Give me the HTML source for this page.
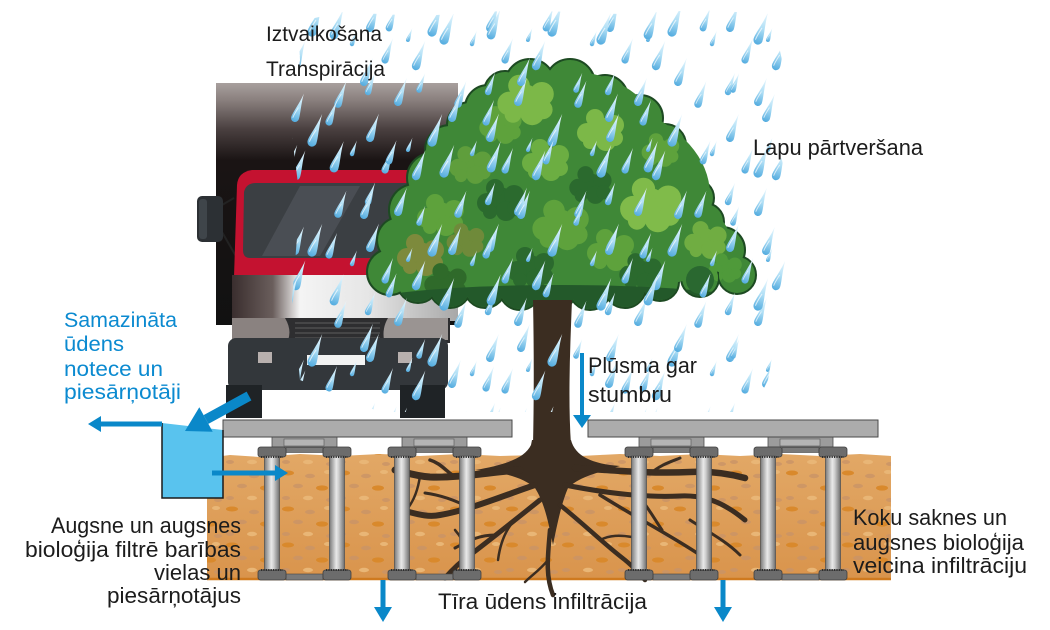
<!DOCTYPE html>
<html><head><meta charset="utf-8">
<style>
html,body{margin:0;padding:0;background:#fff;}
svg{display:block;}
text{font-family:"Liberation Sans",Arial,sans-serif;}
</style></head><body>
<svg width="1050" height="630" viewBox="0 0 1050 630" xmlns="http://www.w3.org/2000/svg">
<defs>
  <linearGradient id="boxg" x1="0" y1="0" x2="0" y2="1">
    <stop offset="0" stop-color="#a8a09e"/>
    <stop offset="0.07" stop-color="#8a807e"/>
    <stop offset="0.19" stop-color="#4a4040"/>
    <stop offset="0.32" stop-color="#1a1414"/>
    <stop offset="1" stop-color="#111"/>
  </linearGradient>
  <linearGradient id="silv" x1="0" y1="0" x2="1" y2="0">
    <stop offset="0" stop-color="#3a2e2e"/>
    <stop offset="0.18" stop-color="#6a5e5c"/>
    <stop offset="0.3" stop-color="#f4f4f4"/>
    <stop offset="0.6" stop-color="#e6e6e6"/>
    <stop offset="1" stop-color="#a8a8a8"/>
  </linearGradient>
  <linearGradient id="col" x1="0" y1="0" x2="1" y2="0">
    <stop offset="0" stop-color="#7a7a7a"/>
    <stop offset="0.45" stop-color="#e8e8e8"/>
    <stop offset="0.6" stop-color="#d2d2d2"/>
    <stop offset="1" stop-color="#6e6e6e"/>
  </linearGradient>
  <linearGradient id="dg" x1="0" y1="0" x2="0" y2="1">
    <stop offset="0" stop-color="#eef9fe"/>
    <stop offset="0.5" stop-color="#b2e0f6"/>
    <stop offset="1" stop-color="#52abdf"/>
  </linearGradient>
  <linearGradient id="soilg" x1="0" y1="0" x2="0" y2="1">
    <stop offset="0" stop-color="#e2a866"/>
    <stop offset="1" stop-color="#d9944c"/>
  </linearGradient>

  <g id="d">
    <path d="M0,-26 C0.8,-15 4,-5 4,0 A4,4 0 0 1 -4,0 C-4,-5 -0.8,-15 0,-26 Z" fill="url(#dg)"/>
    <path d="M-2.2,0.5 C-2.2,-3 -1.2,-7 -0.3,-11" stroke="#fff" stroke-width="0.9" fill="none" opacity="0.7"/>
  </g>

  <pattern id="rainA" width="120" height="110" patternUnits="userSpaceOnUse">
    <use href="#d" transform="translate(10,28) rotate(20) scale(1)"/>
    <use href="#d" transform="translate(72,32) rotate(20) scale(1.15)"/>
    <use href="#d" transform="translate(25,60) rotate(20) scale(0.9)"/>
    <use href="#d" transform="translate(56,66) rotate(20) scale(1.05)"/>
    <use href="#d" transform="translate(8,92) rotate(20) scale(0.8)"/>
    <use href="#d" transform="translate(38,102) rotate(20) scale(1)"/>
    <use href="#d" transform="translate(98,104) rotate(20) scale(0.95)"/>
    <use href="#d" transform="translate(48,40) rotate(20) scale(0.5)"/>
    <use href="#d" transform="translate(112,44) rotate(20) scale(0.55)"/>
  </pattern>
  <pattern id="rainB" width="157" height="133" patternUnits="userSpaceOnUse">
    <use href="#d" transform="translate(20,35) rotate(20) scale(1.1)"/>
    <use href="#d" transform="translate(75,28) rotate(20) scale(0.85)"/>
    <use href="#d" transform="translate(130,40) rotate(20) scale(1.15)"/>
    <use href="#d" transform="translate(50,82) rotate(20) scale(1)"/>
    <use href="#d" transform="translate(105,90) rotate(20) scale(0.7)"/>
    <use href="#d" transform="translate(15,122) rotate(20) scale(0.9)"/>
    <use href="#d" transform="translate(138,118) rotate(20) scale(1)"/>
  </pattern>

  <pattern id="spots" width="56" height="36" patternUnits="userSpaceOnUse">
    <ellipse cx="8" cy="5" rx="6" ry="2.5" fill="#d9892c"/>
    <ellipse cx="30" cy="8" rx="5" ry="2.2" fill="#c99466" opacity="0.8"/>
    <ellipse cx="48" cy="4" rx="4" ry="2" fill="#e9b676"/>
    <ellipse cx="18" cy="18" rx="5" ry="2.2" fill="#c99466" opacity="0.8"/>
    <ellipse cx="42" cy="20" rx="6" ry="2.6" fill="#d9892c"/>
    <ellipse cx="6" cy="30" rx="4" ry="2" fill="#c99466" opacity="0.8"/>
    <ellipse cx="28" cy="30" rx="5" ry="2.2" fill="#e9b676"/>
    <ellipse cx="50" cy="32" rx="4" ry="2" fill="#c99466" opacity="0.8"/>
  </pattern>

  <g id="clump">
    <circle cx="0" cy="0" r="13"/><circle cx="14" cy="-5" r="10"/><circle cx="-13" cy="3" r="10"/>
    <circle cx="6" cy="11" r="10"/><circle cx="-5" cy="-12" r="9"/><circle cx="15" cy="8" r="8"/>
    <circle cx="-10" cy="12" r="7"/>
  </g>

  <clipPath id="cp">
    <circle cx="530" cy="84" r="24"/><circle cx="570" cy="84" r="24"/><circle cx="605" cy="98" r="22"/>
    <circle cx="640" cy="118" r="22"/><circle cx="665" cy="145" r="20"/><circle cx="680" cy="172" r="18"/>
    <circle cx="695" cy="198" r="18"/><circle cx="705" cy="222" r="18"/><circle cx="722" cy="250" r="22"/>
    <circle cx="737" cy="275" r="18"/><circle cx="700" cy="278" r="18"/><circle cx="660" cy="282" r="18"/>
    <circle cx="625" cy="287" r="20"/><circle cx="590" cy="289" r="20"/><circle cx="555" cy="290" r="20"/>
    <circle cx="520" cy="289" r="20"/><circle cx="485" cy="287" r="20"/><circle cx="450" cy="287" r="20"/>
    <circle cx="418" cy="282" r="20"/><circle cx="390" cy="272" r="22"/><circle cx="400" cy="240" r="22"/>
    <circle cx="415" cy="210" r="25"/><circle cx="432" cy="178" r="24"/><circle cx="450" cy="150" r="24"/>
    <circle cx="470" cy="125" r="22"/><circle cx="488" cy="108" r="22"/><circle cx="505" cy="92" r="20"/>
    <ellipse cx="560" cy="195" rx="150" ry="100"/><ellipse cx="470" cy="240" rx="70" ry="50"/>
    <ellipse cx="650" cy="240" rx="80" ry="45"/><ellipse cx="560" cy="140" rx="100" ry="70"/>
  </clipPath>

  <g id="pair">
    <rect x="0" y="437" width="65" height="10" fill="#9c9c9c" stroke="#4d4d4d" stroke-width="0.8"/>
    <rect x="12" y="439" width="40" height="7" fill="#b4b4b4" stroke="#555" stroke-width="0.6"/>
    <rect x="14" y="447.5" width="37" height="5" fill="#7a7a7a" stroke="#444" stroke-width="0.6"/>
    <rect x="-14" y="447" width="28" height="10" rx="2.5" fill="#6c6c6c" stroke="#3f3f3f" stroke-width="0.8"/>
    <rect x="51" y="447" width="28" height="10" rx="2.5" fill="#6c6c6c" stroke="#3f3f3f" stroke-width="0.8"/>
    <rect x="-7.5" y="456" width="15" height="115" fill="url(#col)" stroke="#555" stroke-width="0.8"/>
    <rect x="57.5" y="456" width="15" height="115" fill="url(#col)" stroke="#555" stroke-width="0.8"/>
    <rect x="14" y="574" width="37" height="6" fill="#7a7a7a" stroke="#444" stroke-width="0.6"/>
    <rect x="-14" y="570" width="28" height="10" rx="2.5" fill="#6c6c6c" stroke="#3f3f3f" stroke-width="0.8"/>
    <rect x="51" y="570" width="28" height="10" rx="2.5" fill="#6c6c6c" stroke="#3f3f3f" stroke-width="0.8"/>
    <path d="M-11,457 h22 M54,457 h22 M-11,570 h22 M54,570 h22" stroke="#2e2e2e" stroke-width="2" stroke-dasharray="1.2 1.2"/>
  </g>
</defs>

<rect width="1050" height="630" fill="#fff"/>

<!-- ===== TRUCK ===== -->
<rect x="216" y="83" width="242" height="242" fill="url(#boxg)"/>
<path d="M222,205 L234,198 M222,232 L237,258" stroke="#222" stroke-width="2" fill="none"/>
<rect x="197" y="196" width="26" height="46" rx="5" fill="#2c3034"/>
<rect x="199" y="199" width="8" height="40" rx="3" fill="#3f454a"/>
<path d="M237,185 Q238,172 252,170 L460,170 L460,277 L234,277 Z" fill="#c41230"/>
<path d="M244,192 Q246,183 256,183 L460,183 L460,258 L250,258 Q243,258 243,250 Z" fill="#3b3f43"/>
<path d="M300,186 L360,186 L320,256 L262,256 Z" fill="#51565b" opacity="0.7"/>
<rect x="232" y="275" width="226" height="46" fill="url(#silv)"/>
<rect x="232" y="318" width="218" height="25" fill="#2e2e30"/>
<path d="M232,318 L285,318 Q292,330 288,340 L232,340 Z" fill="#8a8280"/>
<path d="M388,318 L448,318 L448,340 L384,340 Q382,328 388,318Z" fill="#9a9492"/>
<path d="M295,323 H380 M295,328 H380 M295,333 H380 M295,338 H380" stroke="#555" stroke-width="1.2"/>
<rect x="228" y="338" width="220" height="52" rx="8" fill="#33373b"/>
<rect x="307" y="355" width="58" height="10" fill="#f2f2f2"/>
<rect x="258" y="352" width="14" height="11" fill="#b8b0ae"/>
<rect x="398" y="352" width="14" height="11" fill="#b8b0ae"/>
<rect x="226" y="385" width="36" height="33" fill="#1f2326"/>
<rect x="400" y="385" width="45" height="33" fill="#1f2326"/>

<!-- ===== TREE CANOPY ===== -->
<g fill="#1d4a22" stroke="#1d4a22" stroke-width="4">
    <circle cx="530" cy="84" r="24"/><circle cx="570" cy="84" r="24"/><circle cx="605" cy="98" r="22"/>
    <circle cx="640" cy="118" r="22"/><circle cx="665" cy="145" r="20"/><circle cx="680" cy="172" r="18"/>
    <circle cx="695" cy="198" r="18"/><circle cx="705" cy="222" r="18"/><circle cx="722" cy="250" r="22"/>
    <circle cx="737" cy="275" r="18"/><circle cx="700" cy="278" r="18"/><circle cx="660" cy="282" r="18"/>
    <circle cx="625" cy="287" r="20"/><circle cx="590" cy="289" r="20"/><circle cx="555" cy="290" r="20"/>
    <circle cx="520" cy="289" r="20"/><circle cx="485" cy="287" r="20"/><circle cx="450" cy="287" r="20"/>
    <circle cx="418" cy="282" r="20"/><circle cx="390" cy="272" r="22"/><circle cx="400" cy="240" r="22"/>
    <circle cx="415" cy="210" r="25"/><circle cx="432" cy="178" r="24"/><circle cx="450" cy="150" r="24"/>
    <circle cx="470" cy="125" r="22"/><circle cx="488" cy="108" r="22"/><circle cx="505" cy="92" r="20"/>
</g>
<g clip-path="url(#cp)">
  <rect x="350" y="50" width="420" height="270" fill="#3f8837"/>
  <use href="#clump" fill="#5ea23c" transform="translate(560,225) scale(1.2)"/>
  <use href="#clump" fill="#5ea23c" transform="translate(610,250)"/>
  <use href="#clump" fill="#5ea23c" transform="translate(440,215)"/>
  <use href="#clump" fill="#5ea23c" transform="translate(500,125) scale(0.9)"/>
  <use href="#clump" fill="#5ea23c" transform="translate(660,150) scale(0.8)"/>
  <use href="#clump" fill="#2b6a2e" transform="translate(500,200)"/>
  <use href="#clump" fill="#2b6a2e" transform="translate(590,185) scale(0.9)"/>
  <use href="#clump" fill="#7cb848" transform="translate(525,100) scale(1.2)"/>
  <use href="#clump" fill="#7cb848" transform="translate(600,130)"/>
  <use href="#clump" fill="#80bb4a" transform="translate(650,205) scale(1.3)"/>
  <use href="#clump" fill="#6cae42" transform="translate(545,160)"/>
  <use href="#clump" fill="#70ad42" transform="translate(705,240) scale(0.9)"/>
  <use href="#clump" fill="#5f9e3c" transform="translate(470,165) scale(0.9)"/>
  <use href="#clump" fill="#7d8a3c" transform="translate(420,255)"/>
  <use href="#clump" fill="#6f8a3a" transform="translate(465,240) scale(0.8)"/>
  <use href="#clump" fill="#2b6a2e" transform="translate(640,272) scale(0.9)"/>
  <use href="#clump" fill="#2b6a2e" transform="translate(530,268)"/>
  <use href="#clump" fill="#2f6a2a" transform="translate(445,282) scale(0.9)"/>
  <use href="#clump" fill="#4f9a3a" transform="translate(725,268) scale(0.7)"/>
  <ellipse cx="560" cy="307" rx="210" ry="22" fill="#23592a"/>
  <circle cx="700" cy="280" r="14" fill="#2a6830"/>
</g>

<!-- trunk above ground -->
<path d="M533,300 L572,300 C570,350 568,400 571,445 L533,445 C534,400 534,350 533,300 Z" fill="#3b2d21"/>

<!-- ===== SOIL ===== -->
<path d="M207,458 L230,455 L260,457 L300,454 L340,456 L380,454 L420,456 L460,454 L500,456 L540,455 L580,456 L620,454 L660,456 L700,454 L740,456 L780,454 L820,456 L860,454 L891,456 L891,579 L207,579 Z" fill="url(#soilg)"/>
<path d="M207,458 L230,455 L260,457 L300,454 L340,456 L380,454 L420,456 L460,454 L500,456 L540,455 L580,456 L620,454 L660,456 L700,454 L740,456 L780,454 L820,456 L860,454 L891,456 L891,579 L207,579 Z" fill="url(#spots)"/>
<line x1="207" y1="579" x2="891" y2="579" stroke="#cf7a1f" stroke-width="2.5"/>

<!-- ===== ROOTS ===== -->
<path d="M532,440 L571,440 C575,456 592,464 620,466 C592,474 578,478 568,488 C562,502 558,520 553,545 C548,520 544,502 535,488 C524,478 505,472 475,470 C505,465 525,458 531,445 Z" fill="#3b2d21"/>
<g fill="none" stroke="#3b2d21" stroke-linecap="round">
  <path d="M520,470 C490,472 460,478 430,477 C415,476 405,472 395,470" stroke-width="7"/>
  <path d="M455,477 C445,470 440,463 430,460" stroke-width="3.5"/>
  <path d="M535,485 C505,495 470,510 440,515 C425,518 412,512 400,510" stroke-width="6"/>
  <path d="M470,508 C455,500 440,495 425,493" stroke-width="3"/>
  <path d="M540,500 C515,520 490,540 470,555 C460,562 452,570 445,578" stroke-width="5"/>
  <path d="M495,535 C480,535 470,540 455,548" stroke-width="3"/>
  <path d="M470,555 C465,545 462,538 455,530" stroke-width="2.5"/>
  <path d="M550,530 C548,555 545,575 553,595" stroke-width="4.5"/>
  <path d="M548,560 C540,570 532,575 525,582" stroke-width="2.5"/>
  <path d="M575,468 C610,470 650,474 690,472 C710,471 730,474 745,478" stroke-width="6.5"/>
  <path d="M650,474 C660,465 670,462 680,458" stroke-width="3"/>
  <path d="M565,485 C600,492 640,498 680,496 C700,495 715,500 728,508 C735,512 740,516 745,520" stroke-width="5"/>
  <path d="M640,498 C650,510 655,520 662,530" stroke-width="3"/>
  <path d="M560,505 C585,525 605,545 625,560 C635,568 640,575 645,580" stroke-width="4.5"/>
  <path d="M600,540 C610,535 620,535 632,537" stroke-width="2.5"/>
  <path d="M600,495 C640,520 670,535 700,555" stroke-width="3.5"/>
  <path d="M690,520 C705,530 725,540 740,555" stroke-width="3"/>
  <path d="M420,476 C418,490 414,500 408,508" stroke-width="2.5"/>
  <path d="M515,520 C505,530 500,545 498,560" stroke-width="2.5"/>
</g>

<!-- ===== COLUMNS & SLABS ===== -->
<use href="#pair" x="272"/>
<use href="#pair" x="402"/>
<use href="#pair" x="639"/>
<use href="#pair" x="768"/>
<rect x="223" y="420" width="289" height="17" fill="#acacac" stroke="#4a4a4a" stroke-width="1"/>
<rect x="588" y="420" width="290" height="17" fill="#acacac" stroke="#4a4a4a" stroke-width="1"/>

<!-- ===== RAIN ===== -->
<polygon points="298,22 340,12 420,16 520,10 620,14 700,10 772,14 782,60 774,120 790,200 782,300 768,380 752,412 380,412 300,380 292,300 300,200 290,120 300,60" fill="url(#rainA)"/>
<polygon points="298,22 340,12 420,16 520,10 620,14 700,10 772,14 782,60 774,120 790,200 782,300 768,380 752,412 380,412 300,380 292,300 300,200 290,120 300,60" fill="url(#rainB)"/>

<!-- ===== BLUE BOX & ARROWS ===== -->
<path d="M162,423 L223,430 L223,498 L162,498 Z" fill="#59c3ee"/>
<path d="M162,423 L162,498 L223,498 L223,430" fill="none" stroke="#1a1a1a" stroke-width="1.5"/>
<g fill="#0a88c9">
  <rect x="100" y="421.5" width="62" height="5"/>
  <polygon points="88,424 101,416 101,432"/>
  <rect x="212" y="470.5" width="64" height="5"/>
  <polygon points="288,473 275,465 275,481"/>
  <polygon points="212.7,431.8 199.3,407.2 185,431"/>
  <rect x="380.5" y="580" width="5" height="28"/>
  <polygon points="374,607 392,607 383,622"/>
  <rect x="720.5" y="580" width="5" height="28"/>
  <polygon points="714,607 732,607 723,622"/>
  <rect x="580" y="353" width="4" height="63"/>
  <polygon points="573,415 591,415 582,428"/>
</g>
<line x1="249" y1="396" x2="206" y2="419.5" stroke="#0a88c9" stroke-width="10"/>

<!-- ===== TEXT ===== -->
<g fill="#1c1c1c">
  <text x="266" y="41" font-size="21" textLength="116" lengthAdjust="spacingAndGlyphs">Iztvaikošana</text>
  <text x="266" y="76" font-size="21" textLength="119" lengthAdjust="spacingAndGlyphs">Transpirācija</text>
  <text x="753" y="155" font-size="22" textLength="170" lengthAdjust="spacingAndGlyphs">Lapu pārtveršana</text>
  <text x="588" y="373" font-size="22" textLength="109" lengthAdjust="spacingAndGlyphs">Plūsma gar</text>
  <text x="588" y="402" font-size="22" textLength="84" lengthAdjust="spacingAndGlyphs">stumbru</text>
  <text x="853" y="525" font-size="22" textLength="154" lengthAdjust="spacingAndGlyphs">Koku saknes un</text>
  <text x="853" y="550" font-size="22" textLength="171" lengthAdjust="spacingAndGlyphs">augsnes bioloģija</text>
  <text x="853" y="573" font-size="22" textLength="174" lengthAdjust="spacingAndGlyphs">veicina infiltrāciju</text>
  <text x="438" y="609" font-size="22" textLength="209" lengthAdjust="spacingAndGlyphs">Tīra ūdens infiltrācija</text>
  <text x="51" y="533" font-size="22" textLength="190" lengthAdjust="spacingAndGlyphs">Augsne un augsnes</text>
  <text x="25" y="557" font-size="22" textLength="216" lengthAdjust="spacingAndGlyphs">bioloģija filtrē barības</text>
  <text x="154" y="580" font-size="22" textLength="87" lengthAdjust="spacingAndGlyphs">vielas un</text>
  <text x="107" y="603" font-size="22" textLength="134" lengthAdjust="spacingAndGlyphs">piesārņotājus</text>
</g>
<g fill="#0b8ad0">
  <text x="64" y="327" font-size="21" textLength="113" lengthAdjust="spacingAndGlyphs">Samazināta</text>
  <text x="64" y="351" font-size="21" textLength="60" lengthAdjust="spacingAndGlyphs">ūdens</text>
  <text x="64" y="376" font-size="21" textLength="99" lengthAdjust="spacingAndGlyphs">notece un</text>
  <text x="64" y="399" font-size="21" textLength="117" lengthAdjust="spacingAndGlyphs">piesārņotāji</text>
</g>
</svg>
</body></html>
